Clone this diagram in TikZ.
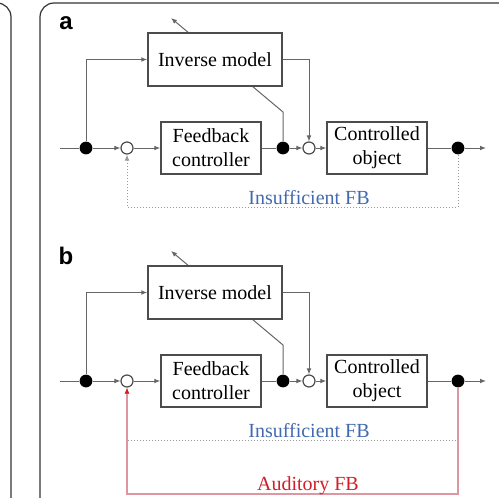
\documentclass[tikz,border=0pt]{standalone}
\usepackage{fontspec}
\setmainfont{Liberation Serif}
\setsansfont{Liberation Sans}
\usetikzlibrary{arrows.meta}
\definecolor{fbblue}{RGB}{65,105,175}
\definecolor{fbred}{RGB}{210,30,40}
\definecolor{fbpink}{RGB}{222,150,160}

\begin{document}
\begin{tikzpicture}
		[x=0.5pt,y=-0.5pt,>={Latex[length=3pt,width=2.4pt]},
		block/.style={rectangle,draw=black!70,fill=white,line width=0.7pt,inner sep=0pt, minimum width=50pt, minimum height=26pt, align=center},
		dot/.style={circle,fill=black,inner sep=0pt, minimum size=6.4pt},
		sum/.style={circle,draw=black!70,fill=white,line width=0.6pt,inner sep=0pt, minimum size=6pt},
		conn/.style={draw=black!60,line width=0.5pt},
		fbdots/.style={draw=black!40,line width=0.5pt,densely dotted},
		audio/.style={draw=fbpink,line width=0.55pt},
		frame/.style={draw=black!80,line width=0.6pt,rounded corners=7pt},
		panel/.style={font=\sffamily\bfseries\fontsize{12}{14}\selectfont}]
		\useasboundingbox (0,0) rectangle (499,498);
		\clip (0,0) rectangle (499,498);
		\draw [frame] (-30,3) -- (11,3) -- (11,530);
		\draw [frame] (40,530) -- (40,3) -- (530,3);

		\foreach \p/\oy in {a/0,b/233}{
		\begin{scope}[shift={(0,\oy)}]
		\node [panel] (lab\p) at (66,23) {\p};
		\coordinate (in\p) at (60,148);
		\coordinate (out\p) at (486,148);
		\coordinate (bend\p) at (283,112);
		\coordinate (tip\p) at (171,18);
		\node [dot] (d1\p) at (86,148) {};
		\node [sum] (s1\p) at (127,148) {};
		\node [dot] (d2\p) at (283,148) {};
		\node [sum] (s2\p) at (309,148) {};
		\node [dot] (d3\p) at (458,148) {};
		\draw [conn,->] (d2\p) -- (bend\p) -- (tip\p);
		\node [block, minimum width=67pt, minimum height=26.5pt] (inv\p) at (215,59.5) {Inverse model};
		\node [block] (fbc\p) at (211,148) {Feedback\\controller};
		\node [block] (obj\p) at (377,148) {Controlled\\object};

		\draw [conn] (in\p) -- (d1\p);
		\draw [conn,->] (d1\p) -- (s1\p);
		\draw [conn,->] (s1\p) -- (fbc\p);
		\draw [conn] (fbc\p) -- (d2\p);
		\draw [conn,->] (d2\p) -- (s2\p);
		\draw [conn,->] (s2\p) -- (obj\p);
		\draw [conn] (obj\p) -- (d3\p);
		\draw [conn,->] (d3\p) -- (out\p);
		\draw [conn,->] (d1\p) |- (inv\p);
		\draw [conn,->] (inv\p) -| (s2\p);
		\draw [fbdots,->] (d3\p) -- ++(0,59) -| (s1\p);
		\node [text=fbblue] (ins\p) at (309,198) {Insufficient FB};
		\end{scope}}

		\draw [audio,-{Latex[length=3pt,width=2.4pt,color=fbred]}] (d3b) -- ++(0,113) -| (s1b);
		\node [text=fbred] (aud) at (308,486) {Auditory FB};

	\end{tikzpicture}
\end{document}
